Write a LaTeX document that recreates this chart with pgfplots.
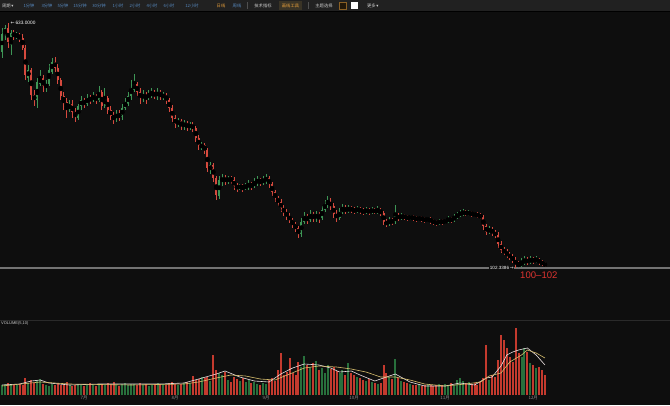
\documentclass[border=0pt]{standalone}
\usepackage{pgfplots}
\pgfplotsset{compat=1.18}
\usepackage{pgfplotstable}
\usepackage{fontspec}
\setmainfont{Liberation Sans}
\newfontfamily\cjk{Noto Sans CJK SC}
\newfontfamily\dejavu{DejaVu Sans}

\definecolor{bg}{RGB}{14,14,14}
\definecolor{barbg}{RGB}{33,33,33}
\definecolor{upc}{RGB}{62,150,86}
\definecolor{dnc}{RGB}{214,74,62}
\definecolor{upv}{RGB}{40,112,60}
\definecolor{dnv}{RGB}{196,58,46}
\definecolor{tabblue}{RGB}{86,136,190}
\definecolor{tabtxt}{RGB}{205,205,205}
\definecolor{orng}{RGB}{232,160,60}
\definecolor{ma5}{RGB}{235,225,225}
\definecolor{ma10}{RGB}{215,190,110}
\definecolor{sep}{RGB}{42,42,42}
\definecolor{tbsep}{RGB}{80,80,80}
\definecolor{hlbox}{RGB}{58,52,38}
\definecolor{lowline}{RGB}{115,115,115}
\definecolor{redtxt}{RGB}{222,52,48}

% daily candles: index, open, high, low, close, volume
\pgfplotstableread{
i o h l c v
0 570.2 622.2 557.2 609.2 10
1 609.2 628.7 596.2 622.2 11
2 622.2 633.0 578.9 591.9 12
3 585.4 617.9 563.7 611.4 11
4 611.4 617.9 596.2 604.9 10
5 604.9 613.5 598.4 607.0 10
6 607.0 611.4 591.9 600.5 11
7 600.5 609.2 574.5 578.9 10
8 578.9 585.4 509.6 520.4 17
9 513.9 542.0 505.2 531.2 12
10 531.2 535.5 466.2 477.1 15
11 477.1 487.9 453.2 466.2 12
12 466.2 513.9 448.9 505.2 15
13 500.9 531.2 496.6 513.9 16
14 513.9 520.4 483.6 496.6 11
15 492.2 509.6 483.6 500.9 10
16 500.9 544.2 496.6 531.2 9
17 526.9 557.2 522.5 548.5 11
18 548.5 559.4 526.9 535.5 10
19 535.5 544.2 500.9 509.6 12
20 509.6 513.9 466.2 474.9 10
21 474.9 483.6 444.6 461.9 11
22 461.9 470.6 427.2 448.9 13
23 444.6 466.2 440.2 457.6 10
24 457.6 466.2 427.2 440.2 9
25 440.2 448.9 418.6 431.6 10
26 427.2 457.6 422.9 453.2 11
27 453.2 474.9 444.6 466.2 10
28 466.2 470.6 448.9 457.6 9
29 457.6 479.2 453.2 470.6 10
30 470.6 477.1 457.6 466.2 12
31 466.2 483.6 461.9 474.9 10
32 474.9 479.2 457.6 466.2 9
33 466.2 496.6 461.9 483.6 10
34 483.6 487.9 444.6 453.2 11
35 453.2 492.2 448.9 470.6 10
36 470.6 474.9 435.9 444.6 12
37 444.6 453.2 422.9 431.6 11
38 431.6 440.2 414.2 427.2 13
39 427.2 444.6 418.6 435.9 10
40 435.9 444.6 420.7 429.4 9
41 429.4 457.6 422.9 448.9 11
42 448.9 470.6 444.6 461.9 12
43 457.6 483.6 453.2 474.9 10
44 474.9 509.6 466.2 492.2 11
45 487.9 522.5 483.6 500.9 11
46 500.9 505.2 474.9 483.6 10
47 483.6 492.2 457.6 470.6 12
48 470.6 487.9 461.9 477.1 10
49 477.1 483.6 457.6 470.6 11
50 470.6 487.9 466.2 479.2 9
51 477.1 492.2 470.6 481.4 10
52 481.4 487.9 468.4 477.1 11
53 474.9 492.2 466.2 483.6 12
54 483.6 487.9 466.2 474.9 10
55 472.7 483.6 466.2 477.1 11
56 477.1 481.4 457.6 466.2 10
57 466.2 470.6 440.2 448.9 12
58 448.9 455.4 418.6 427.2 13
59 427.2 433.7 405.6 414.2 11
60 414.2 427.2 407.7 420.7 10
61 420.7 425.1 401.2 409.9 11
62 409.9 422.9 401.2 416.4 12
63 416.4 420.7 399.1 407.7 13
64 407.7 418.6 401.2 412.1 12
65 412.1 418.6 396.9 405.6 19
66 405.6 409.9 375.3 383.9 15
67 383.9 390.4 357.9 366.6 16
68 364.4 375.3 357.9 368.8 18
69 368.8 373.1 349.3 357.9 17
70 357.9 362.3 310.3 318.9 18
71 314.6 331.9 306.0 325.4 14
72 325.4 329.8 288.6 297.3 40
73 297.3 301.6 249.6 260.5 25
74 258.3 301.6 251.8 293.0 22
75 290.8 306.0 280.0 297.3 20
76 297.3 303.8 282.1 290.8 23
77 290.8 301.6 284.3 297.3 15
78 297.3 301.6 284.3 293.0 13
79 293.0 299.5 271.3 280.0 18
80 280.0 286.5 267.0 275.6 16
81 275.6 284.3 271.3 280.0 14
82 280.0 284.3 267.0 275.6 17
83 275.6 286.5 271.3 280.0 13
84 277.8 293.0 271.3 284.3 15
85 284.3 288.6 271.3 280.0 12
86 280.0 297.3 275.6 288.6 13
87 286.5 301.6 280.0 293.0 11
88 293.0 297.3 280.0 288.6 10
89 288.6 301.6 282.1 293.0 12
90 290.8 306.0 284.3 297.3 11
91 297.3 301.6 275.6 284.3 15
92 284.3 288.6 258.3 267.0 17
93 267.0 271.3 245.3 254.0 14
94 254.0 258.3 236.6 245.3 25
95 245.3 251.8 223.6 232.3 42
96 232.3 238.8 215.0 223.6 20
97 223.6 230.1 206.3 215.0 23
98 215.0 221.5 199.8 206.3 37
99 206.3 210.6 189.0 197.6 22
100 197.6 202.0 180.3 189.0 20
101 189.0 193.3 167.3 176.0 33
102 176.0 210.6 169.5 202.0 28
103 202.0 223.6 197.6 215.0 39
104 215.0 219.3 197.6 206.3 30
105 206.3 228.0 202.0 219.3 28
106 219.3 223.6 202.0 210.6 32
107 210.6 225.8 202.0 219.3 34
108 219.3 223.6 199.8 210.6 25
109 210.6 236.6 206.3 228.0 27
110 228.0 249.6 223.6 241.0 22
111 241.0 258.3 232.3 245.3 30
112 245.3 254.0 228.0 236.6 26
113 236.6 243.1 210.6 219.3 28
114 219.3 228.0 202.0 210.6 24
115 210.6 232.3 206.3 223.6 22
116 223.6 241.0 219.3 232.3 25
117 232.3 238.8 219.3 225.8 20
118 225.8 238.8 221.5 232.3 32
119 232.3 236.6 221.5 228.0 22
120 228.0 234.5 219.3 225.8 20
121 225.8 236.6 221.5 230.1 18
122 230.1 234.5 219.3 225.8 17
123 225.8 232.3 217.1 223.6 15
124 223.6 234.5 219.3 228.0 14
125 228.0 232.3 217.1 223.6 16
126 223.6 234.5 219.3 228.0 13
127 228.0 232.3 219.3 223.6 12
128 223.6 236.6 219.3 228.0 11
129 228.0 232.3 215.0 221.5 12
130 221.5 225.8 195.5 202.0 30
131 202.0 208.5 191.1 197.6 22
132 197.6 212.8 193.3 206.3 18
133 206.3 210.6 195.5 202.0 16
134 202.0 238.8 197.6 215.0 36
135 215.0 221.5 204.1 210.6 17
136 210.6 221.5 206.3 215.0 14
137 215.0 219.3 206.3 212.8 13
138 212.8 217.1 204.1 210.6 12
139 210.6 217.1 206.3 212.8 11
140 212.8 217.1 204.1 210.6 10
141 210.6 215.0 202.0 208.5 10
142 208.5 215.0 204.1 210.6 11
143 210.6 215.0 202.0 208.5 9
144 208.5 212.8 199.8 206.3 10
145 206.3 212.8 202.0 208.5 11
146 208.5 212.8 197.6 204.1 10
147 204.1 208.5 195.5 202.0 9
148 202.0 206.3 193.3 199.8 10
149 199.8 208.5 195.5 204.1 11
150 204.1 208.5 195.5 202.0 10
151 202.0 208.5 197.6 204.1 11
152 204.1 215.0 199.8 208.5 10
153 208.5 212.8 199.8 206.3 12
154 206.3 219.3 202.0 212.8 10
155 212.8 223.6 208.5 217.1 15
156 217.1 228.0 212.8 221.5 17
157 219.3 230.1 215.0 223.6 14
158 223.6 228.0 215.0 219.3 12
159 219.3 228.0 215.0 221.5 13
160 221.5 225.8 212.8 219.3 11
161 219.3 223.6 212.8 217.1 12
162 218.2 223.6 210.6 215.0 10
163 215.0 221.5 208.5 212.8 13
164 212.8 217.1 184.6 193.3 17
165 193.3 197.6 173.8 180.3 50
166 180.3 193.3 176.0 186.8 15
167 186.8 191.1 171.7 178.2 20
168 178.2 184.6 167.3 173.8 18
169 173.8 180.3 145.7 154.3 35
170 154.3 160.8 134.8 141.3 60
171 141.3 147.8 130.5 137.0 55
172 137.0 143.5 124.0 130.5 47
173 130.5 137.0 119.7 126.2 38
174 126.2 132.7 113.2 119.7 33
175 119.7 126.2 102.34 111.0 67
176 111.0 117.5 104.5 106.7 42
177 106.7 124.0 104.5 115.3 38
178 113.2 128.3 108.8 119.7 47
179 119.7 126.2 108.8 115.3 43
180 115.3 128.3 111.0 121.8 32
181 121.8 126.2 111.0 117.5 30
182 117.5 128.3 113.2 119.7 27
183 119.7 124.0 108.8 115.3 28
184 115.3 119.7 106.7 111.0 25
185 111.0 115.3 104.5 108.8 20
}\kline

\pgfplotsset{
  panel/.style={scale only axis, width=670bp, xmin=-0.68, xmax=227.6,
    unbounded coords=discard, clip=true},
  candle/.style={only marks, mark=none, forget plot,
    error bars/.cd, y dir=both, y explicit, error mark=none,
    error bar style={#1, line width=2bp}},
  wick/.style={only marks, mark=none, forget plot,
    error bars/.cd, y dir=both, y explicit, error mark=none,
    error bar style={#1, line width=0.6bp}},
}

\begin{document}
\begin{tikzpicture}[x=1bp, y=1bp]
\useasboundingbox (0,0) rectangle (670,405);
\fill[bg] (0,0) rectangle (670,405);
% toolbar
\fill[barbg] (0,394) rectangle (670,405);
\draw[black, line width=0.6bp] (0,393.7) -- (670,393.7);
\begin{scope}[font=\cjk\fontsize{4.3}{5}\selectfont, text=tabtxt]
  \node[anchor=west, inner sep=0] at (2,399.5) {周期\,{\dejavu ▾}};
  \foreach \t/\x in {1分钟/29, 3分钟/47, 5分钟/63, 15分钟/80, 30分钟/99, 1小时/118, 2小时/135, 4小时/152, 6小时/169, 12小时/192}
    \node[text=tabblue, inner sep=0] at (\x,399.5) {\t};
  \node[text=orng, inner sep=0] at (221,399.5) {日线};
  \node[text=tabblue, inner sep=0] at (237,399.5) {周线};
  \node[inner sep=0] at (263,399.5) {技术指标};
\end{scope}
\draw[tbsep, line width=0.4bp] (247,396) -- (247,403);
\fill[hlbox] (279,395) rectangle (302,404);
\node[font=\cjk\fontsize{4.3}{5}\selectfont, text=orng, inner sep=0] at (290.5,399.5) {画线工具};
\draw[tbsep, line width=0.4bp] (308,396) -- (308,403);
\node[font=\cjk\fontsize{4.3}{5}\selectfont, text=tabtxt, inner sep=0] at (324,399.5) {主题选择};
\filldraw[fill=black!85!orng, draw=orng!60!black, line width=0.5bp] (339.5,396) rectangle (346.5,403);
\fill[white] (350.5,396) rectangle (357.5,403);
\node[font=\cjk\fontsize{4.3}{5}\selectfont, text=tabtxt, anchor=west, inner sep=0] at (367,399.5) {更多\,{\dejavu ▾}};

% separator between price and volume panels
\draw[sep, line width=0.7bp] (0,85) -- (670,85);

% price panel
\begin{axis}[panel, at={(0bp,85bp)}, anchor=south west, height=308bp,
  ymin=-10.3, ymax=656.8, hide axis]
\addplot[lowline, line width=1.4bp, forget plot] coordinates {(-0.68,102.34) (227.6,102.34)};
\addplot[wick=upc] table[x=i,
  y expr={\thisrow{c}>\thisrow{o} ? (\thisrow{h}+\thisrow{l})/2 : nan},
  y error expr={(\thisrow{h}-\thisrow{l})/2}] {\kline};
\addplot[wick=dnc] table[x=i,
  y expr={\thisrow{c}>\thisrow{o} ? nan : (\thisrow{h}+\thisrow{l})/2},
  y error expr={(\thisrow{h}-\thisrow{l})/2}] {\kline};
\addplot[candle=upc] table[x=i,
  y expr={\thisrow{c}>\thisrow{o} ? (\thisrow{o}+\thisrow{c})/2 : nan},
  y error expr={max(abs(\thisrow{c}-\thisrow{o})/2, 1.1)}] {\kline};
\addplot[candle=dnc] table[x=i,
  y expr={\thisrow{c}>\thisrow{o} ? nan : (\thisrow{o}+\thisrow{c})/2},
  y error expr={max(abs(\thisrow{c}-\thisrow{o})/2, 1.1)}] {\kline};
\node[anchor=west, text=white, inner sep=0, font=\fontsize{4.8}{5}\selectfont]
  at (axis cs:2.9,633) {{\dejavu ←}\,633.0000};
\node[anchor=east, text=white, fill=bg, inner sep=0.6bp, font=\fontsize{4.6}{5}\selectfont]
  at (axis cs:174.6,102.34) {102.3386\,{\dejavu →}};
\node[anchor=west, text=redtxt, inner sep=0, font=\fontsize{9.6}{10}\selectfont]
  at (axis cs:176.5,87.6) {100--102};
\end{axis}

% volume panel
\begin{axis}[panel, at={(0bp,10bp)}, anchor=south west, height=75bp,
  ymin=0, ymax=75, hide y axis, axis x line*=bottom,
  x axis line style={draw=none}, major tick length=0,
  xtick={28,59,90,120,151,181},
  xticklabels={7月,8月,9月,10月,11月,12月},
  xticklabel style={font=\cjk\fontsize{4.5}{5}\selectfont, text=black!45!white, inner sep=1.2bp}]
\addplot[ycomb, upv, line width=2bp, mark=none] table[x=i,
  y expr={\thisrow{c}>\thisrow{o} ? \thisrow{v} : nan}] {\kline};
\addplot[ycomb, dnv, line width=2bp, mark=none] table[x=i,
  y expr={\thisrow{c}>\thisrow{o} ? nan : \thisrow{v}}] {\kline};
% MA5
\addplot[ma5, line width=0.6bp, mark=none] coordinates {
(0,10) (6,11) (10,14) (13,15) (16,12) (23,10) (33,11) (44,11) (54,11) (62,12)
(67,16) (73,21) (76,24) (81,18) (86,14) (91,13) (95,21) (99,27) (103,31) (108,30)
(112,27) (115,23) (119,24) (122,20) (127,14) (132,19) (134,21) (139,13) (144,9)
(151,9) (156,12) (161,10) (165,17) (167,18) (170,29) (172,40) (174,43) (176,45)
(179,47) (182,40) (185,30)};
% MA10
\addplot[ma10, line width=0.6bp, mark=none] coordinates {
(0,9) (13,13) (23,11) (44,10) (62,11) (67,13) (73,17) (78,20) (83,19) (88,16)
(93,15) (98,21) (103,27) (108,29) (114,28) (119,26) (124,23) (129,18) (134,18)
(139,15) (144,11) (151,9) (158,11) (163,13) (166,19) (170,22) (173,33) (177,40)
(179,45) (182,42) (185,37)};
\end{axis}
\node[anchor=west, text=tabtxt, inner sep=0, font=\fontsize{4}{5}\selectfont] at (1,82) {VOLUME(5,10)};
\end{tikzpicture}
\end{document}
